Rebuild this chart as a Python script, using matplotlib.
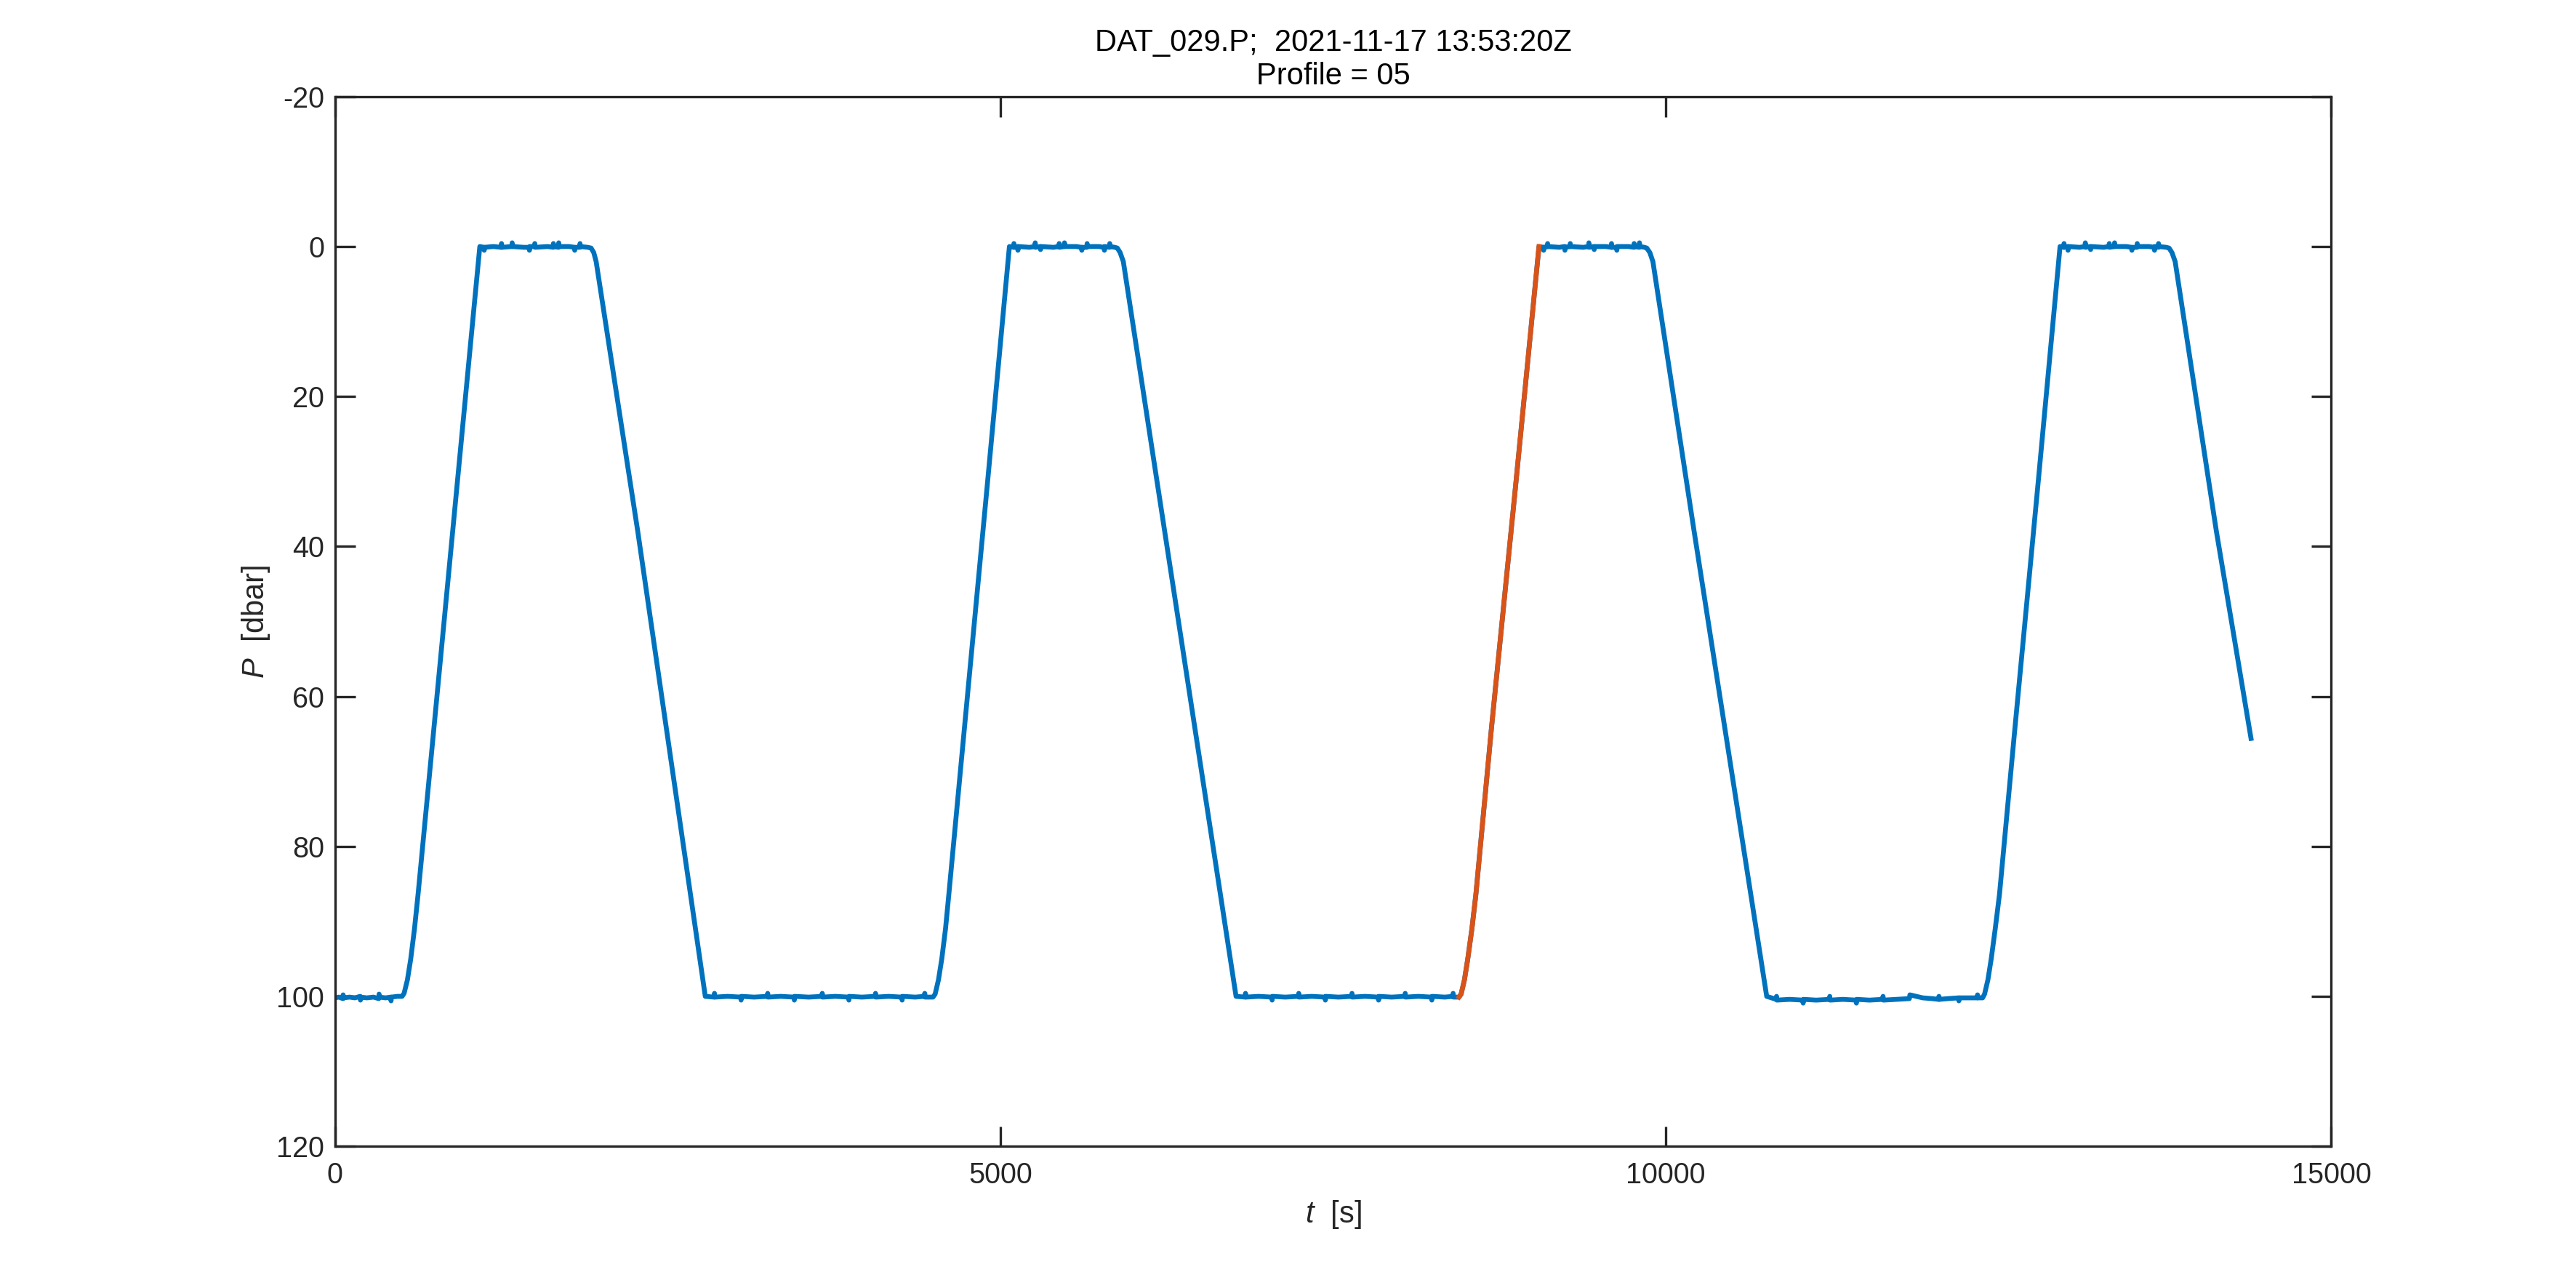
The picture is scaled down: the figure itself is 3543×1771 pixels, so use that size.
import matplotlib
matplotlib.use("Agg")
import matplotlib.pyplot as plt

plt.rcParams['font.family'] = ['Liberation Sans', 'DejaVu Sans']
plt.rcParams['mathtext.fontset'] = 'custom'
plt.rcParams['mathtext.rm'] = 'Liberation Sans'
plt.rcParams['mathtext.it'] = 'Liberation Sans:italic'
plt.rcParams['axes.unicode_minus'] = False

# pressure record (t in s, P in dbar)
# flats carry the small sensor noise spikes
t_all = [
    # bottom, start
    0, 30, 60, 62, 64, 110, 150, 190, 192, 194, 240, 290, 330, 332, 334, 380, 420, 422, 424, 470, 505,
    # up 1
    520, 545, 570, 598, 625, 742, 918, 1089,
    # top 1
    1120, 1122, 1124, 1190, 1250, 1252, 1254, 1330, 1332, 1334, 1420, 1460, 1462, 1464, 1500,
    1502, 1504, 1600, 1640, 1642, 1644, 1680, 1682, 1684, 1760, 1800, 1802, 1804, 1840, 1842,
    1844, 1900, 1925,
    # down 1
    1945, 1963, 2275, 2783,
    # bottom 2
    2850, 2852, 2854, 2950, 3050, 3052, 3054, 3150, 3250, 3252, 3254, 3350, 3450, 3452, 3454,
    3560, 3660, 3662, 3664, 3760, 3860, 3862, 3864, 3960, 4060, 4062, 4064, 4160, 4260, 4262,
    4264, 4360, 4430, 4432, 4434, 4494,
    # up 2
    4510, 4535, 4560, 4588, 4613, 4727, 4905, 5068,
    # top 2
    5100, 5102, 5104, 5130, 5132, 5134, 5220, 5260, 5262, 5264, 5300, 5302, 5304, 5400, 5440,
    5442, 5444, 5480, 5482, 5484, 5570, 5610, 5612, 5614, 5650, 5652, 5654, 5740, 5780, 5782,
    5784, 5820, 5822, 5824, 5860, 5879,
    # down 2
    5900, 5924, 6234, 6771,
    # bottom 3
    6840, 6842, 6844, 6940, 7040, 7042, 7044, 7140, 7240, 7242, 7244, 7340, 7440, 7442, 7444,
    7540, 7640, 7642, 7644, 7740, 7840, 7842, 7844, 7940, 8040, 8042, 8044, 8140, 8240, 8242,
    8244, 8340, 8400, 8402, 8404, 8446,
    # up 3 (the highlighted profile)
    8462, 8487, 8512, 8543, 8573, 8689, 8872, 9047,
    # top 3
    9080, 9082, 9084, 9110, 9112, 9114, 9200, 9240, 9242, 9244, 9280, 9282, 9284, 9380, 9420,
    9422, 9424, 9460, 9462, 9464, 9550, 9590, 9592, 9594, 9630, 9632, 9634, 9720, 9760, 9762,
    9764, 9800, 9802, 9804, 9840, 9857,
    # down 3
    9880, 9903, 10212, 10758,
    # bottom 4
    10830, 10832, 10834, 10930, 11030, 11032, 11034, 11130, 11230, 11232, 11234, 11330, 11430,
    11432, 11434, 11530, 11630, 11632, 11634, 11730, 11830, 11832, 11834, 11930, 12000, 12050,
    12052, 12054, 12120, 12200, 12202, 12204, 12300, 12340, 12342, 12344, 12380,
    # up 4
    12395, 12420, 12445, 12475, 12507, 12620, 12799, 12962,
    # top 4
    12990, 12992, 12994, 13020, 13022, 13024, 13110, 13150, 13152, 13154, 13190, 13192, 13194,
    13290, 13330, 13332, 13334, 13370, 13372, 13374, 13460, 13500, 13502, 13504, 13540, 13542,
    13544, 13630, 13670, 13672, 13674, 13700, 13702, 13704, 13760, 13781,
    # down 4, record ends
    13803, 13827, 14136, 14397,
]
p_all = [
    100.2, 100.1, 100.3, 99.8, 100.2, 100.1, 100.2, 100.0, 100.5, 100.1, 100.2, 100.1, 100.3, 99.7, 100.1,
    100.2, 100.1, 100.6, 100.1, 100.0, 100.0,
    99.6, 97.8, 95.0, 91.0, 86.4, 64.6, 31.8, 0.0,
    0.1, 0.5, 0.1, 0.0, 0.1, -0.4, 0.1, 0.0, -0.5, 0.0, 0.1, 0.1, 0.5, 0.0, 0.0,
    -0.4, 0.1, 0.0, 0.1, -0.4, 0.0, 0.1, -0.5, 0.0, 0.0, 0.1, 0.5, 0.1, 0.1, -0.4,
    0.0, 0.1, 0.2,
    0.8, 2.0, 37.9, 100.0,
    100.1, 99.6, 100.1, 100.0, 100.1, 100.5, 100.0, 100.1, 100.0, 99.6, 100.1, 100.0, 100.1, 100.5, 100.0,
    100.1, 100.0, 99.6, 100.1, 100.0, 100.1, 100.5, 100.0, 100.1, 100.0, 99.6, 100.1, 100.0, 100.1, 100.5,
    100.0, 100.1, 100.0, 99.6, 100.1, 100.1,
    99.7, 97.8, 95.0, 91.0, 86.4, 64.8, 31.2, 0.0,
    0.1, -0.4, 0.1, 0.0, 0.5, 0.0, 0.1, 0.0, -0.5, 0.1, 0.0, 0.4, 0.0, 0.1, 0.0,
    -0.4, 0.1, 0.0, -0.5, 0.0, 0.0, 0.1, 0.5, 0.1, 0.1, -0.4, 0.0, 0.0, 0.1, 0.5,
    0.0, 0.1, -0.4, 0.0, 0.1, 0.2,
    0.8, 2.0, 37.9, 100.0,
    100.1, 99.6, 100.1, 100.0, 100.1, 100.5, 100.0, 100.1, 100.0, 99.6, 100.1, 100.0, 100.1, 100.5, 100.0,
    100.1, 100.0, 99.6, 100.1, 100.0, 100.1, 100.5, 100.0, 100.1, 100.0, 99.6, 100.1, 100.0, 100.1, 100.5,
    100.0, 100.1, 100.0, 99.6, 100.1, 100.1,
    99.7, 97.8, 95.0, 91.0, 86.4, 64.4, 31.8, 0.0,
    0.1, 0.5, 0.1, 0.0, -0.4, 0.0, 0.1, 0.0, 0.5, 0.1, 0.0, -0.4, 0.0, 0.1, 0.0,
    -0.5, 0.1, 0.0, 0.4, 0.0, 0.0, 0.1, -0.4, 0.1, 0.1, 0.5, 0.0, 0.0, 0.1, -0.4,
    0.0, 0.1, -0.5, 0.0, 0.1, 0.2,
    0.8, 2.0, 37.9, 100.0,
    100.4, 100.0, 100.5, 100.4, 100.5, 100.9, 100.4, 100.5, 100.4, 100.0, 100.5, 100.4, 100.5,
    100.9, 100.4, 100.5, 100.4, 100.0, 100.5, 100.4, 100.3, 100.1, 99.8, 100.2, 100.3, 100.4,
    100.0, 100.4, 100.3, 100.2, 100.6, 100.2, 100.2, 100.2, 99.8, 100.2, 100.2,
    99.7, 97.8, 95.0, 91.0, 86.4, 64.8, 31.2, 0.0,
    0.1, -0.4, 0.1, 0.0, 0.5, 0.0, 0.1, 0.0, -0.5, 0.1, 0.0, 0.4, 0.0, 0.1, 0.0,
    -0.4, 0.1, 0.0, -0.5, 0.0, 0.0, 0.1, 0.5, 0.1, 0.1, -0.4, 0.0, 0.0, 0.1, 0.5,
    0.0, 0.1, -0.4, 0.0, 0.1, 0.2,
    0.8, 2.0, 37.9, 65.6,
]

# selected profile (05), drawn on top
t_prof = [8446, 8462, 8487, 8512, 8543, 8573, 8689, 8872, 9047]
p_prof = [100.1, 99.7, 97.8, 95.0, 91.0, 86.4, 64.4, 31.8, 0.0]

x_ticks = [0, 5000, 10000, 15000]
y_ticks = [-20, 0, 20, 40, 60, 80, 100, 120]

title_txt = 'DAT_029.P;  2021-11-17 13:53:20Z\nProfile = 05'

blue = '#0072BD'
orange = '#D95319'
axcol = '#262626'

fig = plt.figure(figsize=(3543 / 300, 1771 / 300), dpi=300)
ax = fig.add_axes([0.13, 0.11, 0.775, 0.815])

ax.plot(t_all, p_all, color=blue, lw=1.6)
ax.plot(t_prof, p_prof, color=orange, lw=1.6)

ax.set_xlim(0, 15000)
ax.set_ylim(120, -20)
ax.set_xticks(x_ticks)
ax.set_yticks(y_ticks)

ax.tick_params(direction='in', length=6.6, width=0.8, colors=axcol, labelsize=9.5,
               top=True, right=True)
ax.tick_params(axis='x', pad=5)
ax.tick_params(axis='y', pad=3.5)
for s in ax.spines.values():
    s.set_color(axcol)
    s.set_linewidth(0.8)

ax.set_xlabel(r'$t$  [s]', fontsize=10, color=axcol, labelpad=3)
ax.set_ylabel(r'$P$  [dbar]', fontsize=10, color=axcol, labelpad=1.5)
ax.set_title(title_txt, fontsize=10, pad=4, color='black')

fig.savefig('out.png', dpi=300)
